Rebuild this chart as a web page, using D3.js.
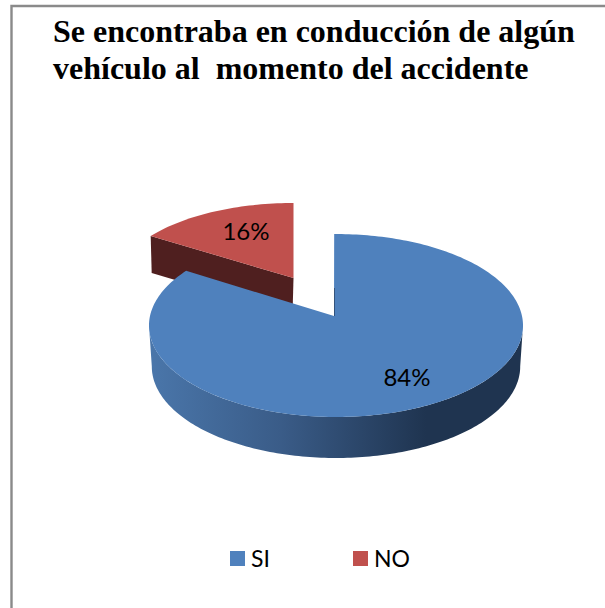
<!DOCTYPE html>
<html><head><meta charset="utf-8">
<script src="https://cdnjs.cloudflare.com/ajax/libs/d3/7.8.5/d3.min.js"></script>
<style>html,body{margin:0;padding:0;background:#fff;overflow:hidden}svg{display:block}</style>
</head><body><script>
const categories = ["SI", "NO"];
const values = [84, 16];
const labels = ["84%", "16%"];
const titleLines = ["Se encontraba en conducción de algún", "vehículo al  momento del accidente"];
const faceColors = ["#4f81bd", "#c0504d"];

const svg = d3.select("body").append("svg").attr("width",605).attr("height",608);
svg.append("rect").attr("width",605).attr("height",608).attr("fill","#fff");
svg.append("path").attr("d","M605,6H11.5V608").attr("fill","none").attr("stroke","#8a8a8a").attr("stroke-width",2.4);

const defs = svg.append("defs");
const grad = defs.append("linearGradient").attr("id","side").attr("gradientUnits","userSpaceOnUse")
  .attr("x1",150).attr("x2",523).attr("y1",0).attr("y2",0);
[[0,"#4a76aa"],[0.35,"#3a5c88"],[0.74,"#1f3450"],[1,"#1f3450"]].forEach(s=>grad.append("stop").attr("offset",s[0]).attr("stop-color",s[1]));

// perspective projection of a unit-circle angle onto the tilted pie
const k = -0.104, A = 186, B = 90.5;
const proj = (a, X0, Y0, sx=1, sy=1) => {
  const u = Math.sin(a), v = -Math.cos(a), w = 1 + k*v;
  return [X0 + sx*A*u/w, Y0 + sy*B*v/w];
};
const range = (a0,a1,n=120) => d3.range(n+1).map(i=>a0+(a1-a0)*i/n);
const line = d3.line();

const tilt = -0.0108;
const arcs = d3.pie().sort(null).startAngle(tilt).endAngle(2*Math.PI+tilt)(values);
const blue = arcs[0], red = arcs[1];

// red slice (pulled out)
const RX=293.5, RY=278, rsx=0.96, rsy=0.915, depthR=37;
const redRim = range(red.startAngle-tilt,red.endAngle-tilt,40).map(a=>proj(a,RX,RY,rsx,rsy));
const redStart = redRim[0];
svg.append("path").attr("fill","#4f1f1f")
  .attr("d",line([redStart,[RX,RY],[RX-1,RY+depthR],[redStart[0]+1,redStart[1]+depthR]])+"Z");
svg.append("path").attr("fill",faceColors[1]).attr("d",line([[RX,RY],...redRim])+"Z");

// blue slice
const BX=336, BY=316, depth=41, shrink=0.985;
const lower = a => { const p=proj(a,BX,BY); return [BX+(p[0]-BX)*shrink, p[1]+depth]; };
const sideTop = range(Math.PI/2+0.1, 3*Math.PI/2-0.1,160);
const sidePts = [...sideTop.map(a=>proj(a,BX,BY)), ...sideTop.slice().reverse().map(lower)];
svg.append("path").attr("fill","url(#side)").attr("d",line(sidePts)+"Z");
const blueRim = range(blue.startAngle,blue.endAngle,240).map(a=>proj(a,BX,BY));
svg.append("path").attr("fill",faceColors[0]).attr("d",line([[334,316],...blueRim])+"Z");
svg.append("line").attr("x1",334.5).attr("x2",334.5).attr("y1",288).attr("y2",316).attr("stroke","#1f3450").attr("stroke-opacity",0.6);

// labels
const labelPos = [[407,376.5],[246,230.5]];
svg.selectAll(".lab").data(labels).join("text").attr("class","lab")
  .attr("x",(d,i)=>labelPos[i][0]).attr("y",(d,i)=>labelPos[i][1])
  .attr("text-anchor","middle").attr("dominant-baseline","central")
  .attr("font-family","Lato").attr("font-size",24).attr("fill","#000").text(d=>d);

// title
svg.selectAll(".title").data(titleLines).join("text").attr("class","title")
  .attr("x",53).attr("y",(d,i)=>42+i*37)
  .attr("xml:space","preserve").style("white-space","pre")
  .attr("font-family","Liberation Serif").attr("font-weight","bold").attr("font-size",32).attr("fill","#000").text(d=>d);

// legend
const legX = d3.scaleOrdinal().domain(categories).range([230,353]);
const leg = svg.selectAll(".leg").data(categories).join("g").attr("class","leg").attr("transform",d=>`translate(${legX(d)},551)`);
leg.append("rect").attr("width",15).attr("height",15).attr("fill",(d,i)=>faceColors[i]);
leg.append("text").attr("x",21).attr("y",16).attr("font-family","Lato").attr("font-size",23).attr("fill","#000").text(d=>d);
</script></body></html>
